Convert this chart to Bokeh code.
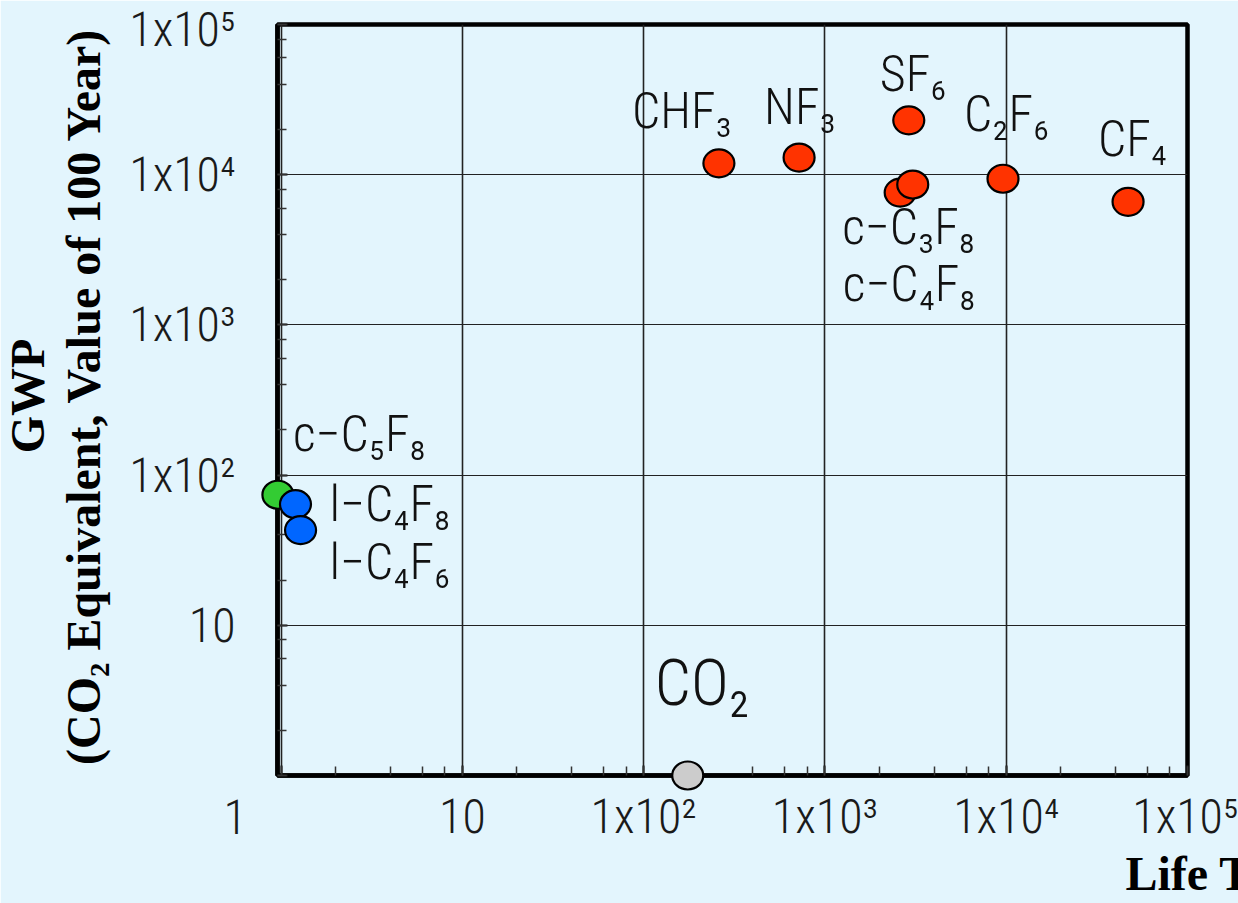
from math import pi, sqrt
from bokeh.plotting import figure
from bokeh.models import ColumnDataSource, LogTicker
from bokeh.core.properties import value
from bokeh.embed import file_html
from bokeh.resources import INLINE

# ---------------- data ----------------
gases = ["CHF₃", "NF₃", "SF₆", "c−C₃F₈", "c−C₄F₈", "C₂F₆", "CF₄",
         "c−C₅F₈", "l−C₄F₈", "l−C₄F₆", "CO₂"]
lifetime_years = [260, 720, 2900, 2600, 3050, 9600, 47000, 0.96, 1.2, 1.28, 175]
gwp_100yr = [11900, 13000, 23000, 7600, 8600, 9400, 6600, 74, 64, 43, 1]
gas_group = ["PFC", "PFC", "PFC", "PFC", "PFC", "PFC", "PFC",
             "cyclic", "linear", "linear", "reference"]

tick_values = [1, 10, 100, 1000, 10000, 100000]
tick_labels = ["", "10", "1x10²", "1x10³", "1x10⁴", "1x10⁵"]
origin_label = "1"
x_title = "Life Time (Year)"
y_title_1 = "GWP"
y_title_2 = "(CO₂ Equivalent, Value of 100 Year)"

# ---------------- style / layout ----------------
BG = "#e3f5fd"
THIN = "Roboto Condensed Light"
SERIF = "Liberation Serif"
GROUP_COLORS = {"PFC": "#ff3300", "cyclic": "#33cc33",
                "linear": "#0066ff", "reference": "#cccccc"}
LABEL_OFFSETS = {  # screen px from point centre (dx right, dy down)
    "CHF₃": (-87, -52), "NF₃": (-35, -51), "SF₆": (-29, -46),
    "c−C₃F₈": (-58, 34), "c−C₄F₈": (-70, 99), "C₂F₆": (-39, -65),
    "CF₄": (-30, -63), "c−C₅F₈": (15, -61), "l−C₄F₈": (34, 0),
    "l−C₄F₆": (29, 32), "CO₂": (-33, -92),
}
LABEL_SIZES = {"CO₂": "64px"}
X_RANGE = (0.955, 1e5)
Y_RANGE = (1, 1e5)

src = ColumnDataSource(dict(
    gas=gases, life=lifetime_years, gwp=gwp_100yr,
    color=[GROUP_COLORS[g] for g in gas_group],
    dx=[LABEL_OFFSETS[g][0] for g in gases],
    dy=[LABEL_OFFSETS[g][1] for g in gases],
    fsize=[LABEL_SIZES.get(g, "50px") for g in gases],
))

p = figure(width=1238, height=903, x_axis_type="log", y_axis_type="log",
           x_range=X_RANGE, y_range=Y_RANGE,
           output_backend="svg", toolbar_location=None,
           min_border_left=277, min_border_right=51,
           min_border_top=24, min_border_bottom=128)
p.background_fill_color = BG
p.border_fill_color = BG
p.outline_line_color = "black"
p.outline_line_width = 4.5

for ax in (p.xaxis[0], p.yaxis[0]):
    ax.ticker = LogTicker(desired_num_ticks=6)
    ax.major_label_overrides = dict(zip(tick_values, tick_labels))
    ax.axis_line_width = 4.5
    ax.axis_line_color = "black"
    ax.major_tick_in = 10
    ax.major_tick_out = 0
    ax.minor_tick_in = 9
    ax.minor_tick_out = 0
    ax.major_tick_line_color = "#222222"
    ax.minor_tick_line_color = "#333333"
    ax.minor_tick_line_width = 1.5
    ax.major_tick_line_width = 2
    ax.major_label_text_font = THIN
    ax.major_label_text_font_size = "48px"
    ax.major_label_text_color = "#1a1a1a"

p.xaxis.major_label_standoff = 12
p.yaxis.major_label_standoff = 42

p.xgrid.grid_line_color = "#222222"
p.xgrid.grid_line_width = 1.6
p.ygrid.grid_line_color = "#222222"
p.ygrid.grid_line_width = 1.1

pts = p.ellipse(x="life", y="gwp", width=31, height=28,
                width_units="screen", height_units="screen",
                fill_color="color", line_color="black", line_width=2.2, source=src)
pts.level = "overlay"

p.text(x="life", y="gwp", text="gas", x_offset="dx", y_offset="dy",
       text_font=value(THIN), text_font_size="fsize", text_color="#111111",
       text_align="left", text_baseline="alphabetic", source=src)

# origin tick label and axis titles, anchored at the range corners (unclipped overlay text)
y_mid = sqrt(Y_RANGE[0] * Y_RANGE[1])
origin = p.text(x=[1], y=[Y_RANGE[0]], text=[origin_label], x_offset=-46, y_offset=41,
                text_font=value(THIN), text_font_size="48px", text_color="#1a1a1a",
                text_align="center", text_baseline="alphabetic")
xt = p.text(x=[X_RANGE[1]], y=[Y_RANGE[0]], text=[x_title], x_offset=-62, y_offset=98,
            text_font=value(SERIF), text_font_style="bold", text_font_size="48px",
            text_color="black", text_align="left", text_baseline="alphabetic")
yt = p.text(x=[X_RANGE[0], X_RANGE[0]], y=[y_mid, y_mid], text=[y_title_1, y_title_2],
            x_offset=[-250, -194], y_offset=-4, angle=pi / 2,
            text_font=value(SERIF), text_font_style="bold", text_font_size="48px",
            text_color="black", text_align="center", text_baseline="alphabetic")
for r in (origin, xt, yt):
    r.level = "overlay"

open("out.html", "w").write(file_html(p, INLINE))
